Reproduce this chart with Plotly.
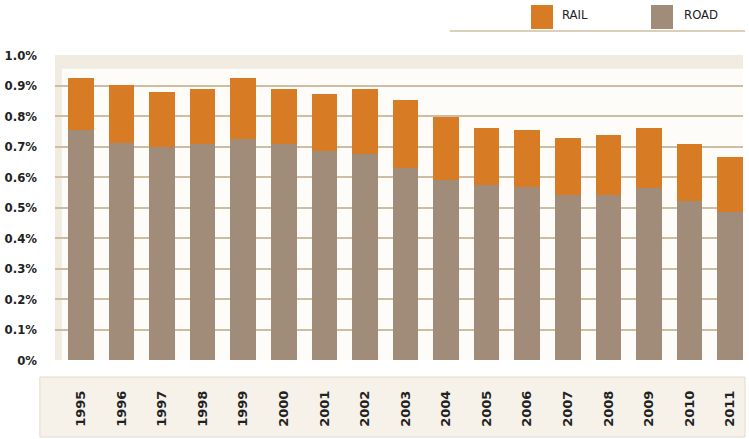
import plotly.graph_objects as go

years = ["1995", "1996", "1997", "1998", "1999", "2000", "2001", "2002", "2003",
         "2004", "2005", "2006", "2007", "2008", "2009", "2010", "2011"]
road = [0.755, 0.711, 0.698, 0.709, 0.726, 0.709, 0.684, 0.675, 0.629,
        0.591, 0.574, 0.566, 0.540, 0.540, 0.564, 0.521, 0.485]
total = [0.926, 0.901, 0.880, 0.888, 0.926, 0.888, 0.872, 0.888, 0.851,
         0.798, 0.762, 0.755, 0.729, 0.739, 0.762, 0.708, 0.667]
rail = [round(t - r, 3) for t, r in zip(total, road)]
y_ticks = [0, 0.1, 0.2, 0.3, 0.4, 0.5, 0.6, 0.7, 0.8, 0.9, 1.0]
y_labels = ["0%", "0.1%", "0.2%", "0.3%", "0.4%", "0.5%", "0.6%", "0.7%", "0.8%", "0.9%", "1.0%"]
series_names = ["RAIL", "ROAD"]

ROAD_C = "#a18b79"
RAIL_C = "#d87b25"
GRID_C = "#cdbda3"

fig = go.Figure()
fig.add_trace(go.Bar(x=list(range(len(years))), y=road, name=series_names[1],
                     marker=dict(color=ROAD_C, line=dict(width=0)), width=0.63))
fig.add_trace(go.Bar(x=list(range(len(years))), y=rail, name=series_names[0],
                     marker=dict(color=RAIL_C, line=dict(width=0)), width=0.63))

shapes = []
# x-axis label box
shapes.append(dict(type="rect", xref="paper", yref="paper", x0=-0.022, x1=1.003,
                   y0=-0.2525, y1=-0.0557, fillcolor="#f6f2ea",
                   line=dict(color="#e4dacb", width=1), layer="below"))
# top / left shading of plot area
shapes.append(dict(type="rect", xref="paper", yref="paper", x0=0, x1=1,
                   y0=0.955, y1=1.0, fillcolor="#f1ece2", line=dict(width=0), layer="below"))
shapes.append(dict(type="rect", xref="paper", yref="paper", x0=0, x1=0.01,
                   y0=0, y1=1.0, fillcolor="#f1ece2", line=dict(width=0), layer="below"))
# legend
shapes.append(dict(type="line", xref="paper", yref="paper", x0=0.574, x1=1.003,
                   y0=1.0787, y1=1.0787, line=dict(color="#dccfba", width=2)))
shapes.append(dict(type="rect", xref="paper", yref="paper", x0=0.6919, x1=0.7238,
                   y0=1.0852, y1=1.1639, fillcolor=RAIL_C, line=dict(width=0)))
shapes.append(dict(type="rect", xref="paper", yref="paper", x0=0.8663, x1=0.8983,
                   y0=1.0852, y1=1.1639, fillcolor=ROAD_C, line=dict(width=0)))

annotations = [
    dict(text=series_names[0], xref="paper", yref="paper", x=0.734, y=1.134,
         xanchor="left", yanchor="middle", showarrow=False,
         font=dict(family="DejaVu Sans Condensed, DejaVu Sans", size=13, color="#222222")),
    dict(text=series_names[1], xref="paper", yref="paper", x=0.9113, y=1.134,
         xanchor="left", yanchor="middle", showarrow=False,
         font=dict(family="DejaVu Sans Condensed, DejaVu Sans", size=13, color="#222222")),
]

fig.update_layout(
    width=749, height=439,
    margin=dict(l=55, r=6, t=55, b=79, autoexpand=False),
    barmode="stack",
    showlegend=False,
    paper_bgcolor="white",
    plot_bgcolor="#fdfcf9",
    shapes=shapes,
    annotations=annotations,
    xaxis=dict(
        range=[-0.64, 16.32],
        tickmode="array",
        tickvals=list(range(len(years))),
        ticktext=years,
        tickangle=-90,
        tickfont=dict(family="DejaVu Sans", size=13, color="#222222", weight=700),
        ticks="",
        ticklabelstandoff=27,
        automargin=False,
        showgrid=False,
        zeroline=False,
        showline=False,
        fixedrange=True,
    ),
    yaxis=dict(
        range=[0, 1.0],
        tickmode="array",
        tickvals=y_ticks,
        ticktext=y_labels,
        tickfont=dict(family="DejaVu Sans Condensed, DejaVu Sans", size=13, color="#222222", weight=700),
        ticks="",
        ticklabelstandoff=17,
        automargin=False,
        showgrid=True,
        gridcolor=GRID_C,
        gridwidth=2,
        zeroline=False,
        showline=False,
        fixedrange=True,
    ),
)

fig.write_html("out.html", config={"displayModeBar": False},
               post_script="document.body.style.margin='0';document.body.style.overflow='hidden';")
